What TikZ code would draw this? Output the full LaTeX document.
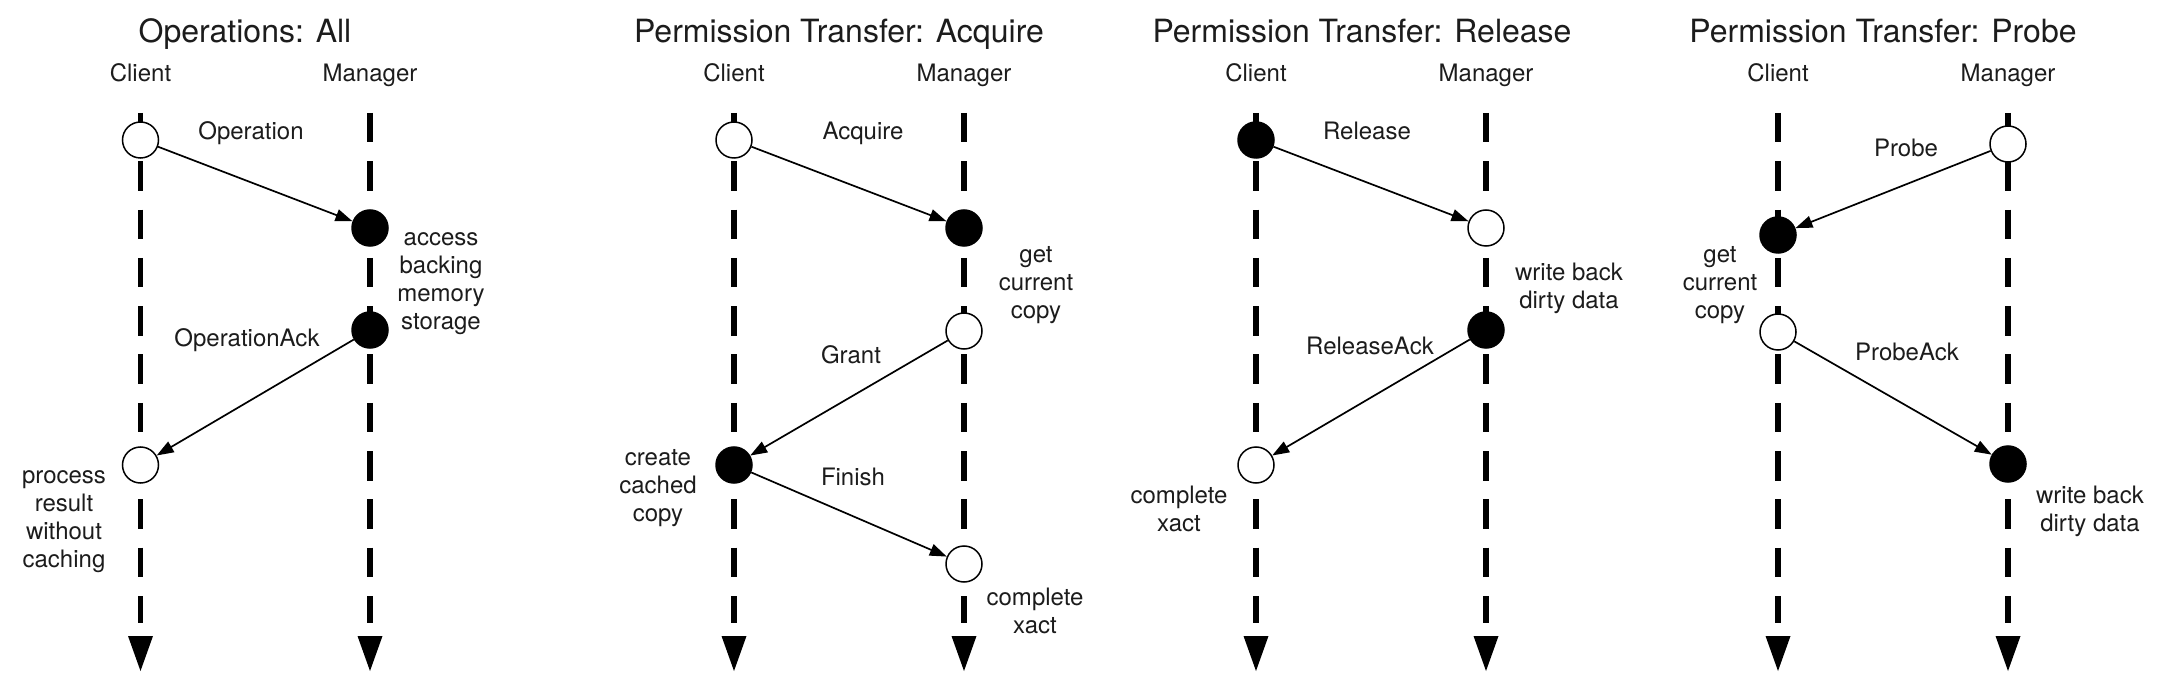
\documentclass[tikz,border=0pt]{standalone}
\usepackage{fontspec}
\setmainfont{TeX Gyre Heros}
\usetikzlibrary{arrows.meta}
\definecolor{ink}{RGB}{28,28,28}
\newcommand{\lifeln}[2]{%
  \coordinate (#1t) at (#2,113);
  \coordinate (#1b) at (#2,623);
  \draw[life] (#1t) -- (#1b);
  \fill[black] (#2-12.5,636) -- (#2+12.5,636) -- (#2,671) -- cycle;
}
\begin{document}
\begin{tikzpicture}[x=1pt,y=-1pt,
  lbl/.style={font=\fontsize{24}{28}\selectfont, text=ink, inner sep=0pt, anchor=base},
  mlbl/.style={font=\fontsize{24}{28}\selectfont, text=ink, inner sep=0pt, align=center,
    execute at begin node=\strut, execute at end node=\strut},
  ttl/.style={font=\fontsize{32}{38}\selectfont, text=ink, inner sep=0pt, anchor=base},
  ev/.style={circle, draw=black, line width=1.5pt, minimum size=36pt, inner sep=0pt},
  evw/.style={ev, fill=white},
  evb/.style={ev, fill=black},
  life/.style={line width=5.5pt, black, dash pattern=on 29.5pt off 18.8pt},
  msg/.style={line width=1.7pt, black, -{Triangle[length=17pt,width=12pt]}}]
\path[use as bounding box, fill=white] (0,0) rectangle (2160,684);

% ---------- lifelines ----------
\lifeln{l1c}{140.5}
\lifeln{l1m}{370}
\lifeln{l2c}{734}
\lifeln{l2m}{964}
\lifeln{l3c}{1256}
\lifeln{l3m}{1486}
\lifeln{l4c}{1778}
\lifeln{l4m}{2008}

% ---------- Panel 1 ----------
\node[ttl] (t1) at (245,43) {Operations: All};
\node[lbl] (c1) at (140.5,82) {Client};
\node[lbl] (m1) at (370,82) {Manager};
\node[evw] (a1) at (140.5,140) {};
\node[evb] (a2) at (370,228) {};
\node[evb] (a3) at (370,330) {};
\node[evw] (a4) at (140.5,465) {};
\draw[msg] (a1) -- (a2);
\draw[msg] (a3) -- (a4);
\node[lbl] (a1m) at (251,140) {Operation};
\node[mlbl] (a2t) at (441,285) {access\\backing\\memory\\storage};
\node[lbl] (a3m) at (247,347) {OperationAck};
\node[mlbl] (a4t) at (64,523) {process\\result\\without\\caching};

% ---------- Panel 2 ----------
\node[ttl] (t2) at (839,43) {Permission Transfer: Acquire};
\node[lbl] (c2) at (734,82) {Client};
\node[lbl] (m2) at (964,82) {Manager};
\node[evw] (b1) at (734,140) {};
\node[evb] (b2) at (964,228) {};
\node[evw] (b3) at (964,331) {};
\node[evb] (b4) at (734,465) {};
\node[evw] (b5) at (964,564) {};
\draw[msg] (b1) -- (b2);
\draw[msg] (b3) -- (b4);
\draw[msg] (b4) -- (b5);
\node[lbl] (b1m) at (863,140) {Acquire};
\node[mlbl] (b2t) at (1036,287) {get\\current\\copy};
\node[lbl] (b3m) at (851,364) {Grant};
\node[mlbl] (b4t) at (658,490) {create\\cached\\copy};
\node[lbl] (b4m) at (853,485) {Finish};
\node[mlbl] (b5t) at (1035,615) {complete\\xact};

% ---------- Panel 3 ----------
\node[ttl] (t3) at (1362,43) {Permission Transfer: Release};
\node[lbl] (c3) at (1256,82) {Client};
\node[lbl] (m3) at (1486,82) {Manager};
\node[evb] (d1) at (1256,140) {};
\node[evw] (d2) at (1486,228) {};
\node[evb] (d3) at (1486,330) {};
\node[evw] (d4) at (1256,465) {};
\draw[msg] (d1) -- (d2);
\draw[msg] (d3) -- (d4);
\node[lbl] (d1m) at (1367,140) {Release};
\node[mlbl] (d2t) at (1569,290) {write back\\dirty data};
\node[lbl] (d3m) at (1370,355) {ReleaseAck};
\node[mlbl] (d4t) at (1179,513) {complete\\xact};

% ---------- Panel 4 ----------
\node[ttl] (t4) at (1883,43) {Permission Transfer: Probe};
\node[lbl] (c4) at (1778,82) {Client};
\node[lbl] (m4) at (2008,82) {Manager};
\node[evw] (e1) at (2008,144) {};
\node[evb] (e2) at (1778,235) {};
\node[evw] (e3) at (1778,332) {};
\node[evb] (e4) at (2008,464) {};
\draw[msg] (e1) -- (e2);
\draw[msg] (e3) -- (e4);
\node[lbl] (e1m) at (1906,157) {Probe};
\node[mlbl] (e2t) at (1720,287) {get\\current\\copy};
\node[lbl] (e3m) at (1907,360) {ProbeAck};
\node[mlbl] (e4t) at (2090,513) {write back\\dirty data};
\end{tikzpicture}
\end{document}
